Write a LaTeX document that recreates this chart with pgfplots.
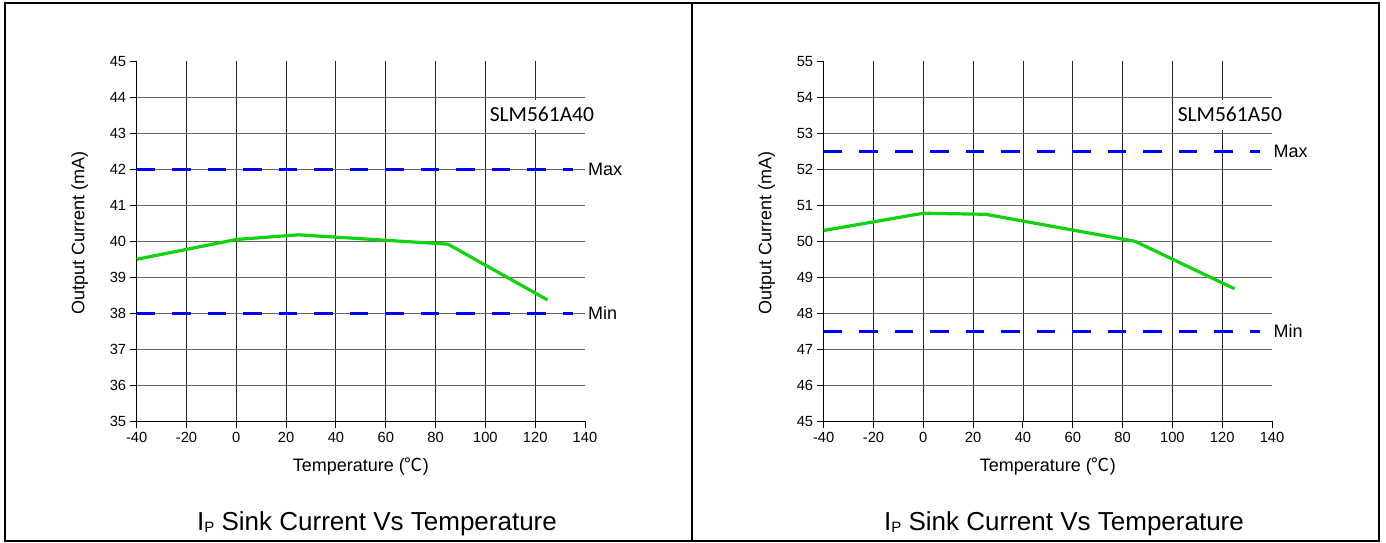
\documentclass[border=0pt]{standalone}
\usepackage{pgfplots}
\usepackage{pgfplotstable}
\pgfplotsset{compat=1.18}
\usepackage{fontspec}
\setmainfont{Liberation Sans}
\newfontfamily\calfont{Carlito}
\newfontfamily\cjk{Noto Sans CJK SC}
\definecolor{lgreen}{RGB}{16,210,16}
\definecolor{dblue}{RGB}{0,0,255}

\pgfplotstableread{
t I
-40 39.50
0 40.05
25 40.18
85 39.92
125 38.37
}\dataA
\pgfplotstableread{
t I
-40 50.30
0 50.78
25 50.75
85 50.00
125 48.68
}\dataB

\pgfplotsset{panel/.style={
  scale only axis, width=448.3pt, height=360pt, anchor=south west,
  xmin=-40, xmax=140, xtick={-40,-20,...,140},
  minor xtick={-20,0,...,120},
  grid=minor,
  minor tick length=0pt,
  minor grid style={line width=0.9pt},
  x grid style={black!85},
  y grid style={black!60},
  axis x line*=bottom, axis y line*=left,
  axis line style={-, black, line width=1pt},
  major tick style={black, line width=1pt},
  tick align=outside, major tick length=7pt,
  tick label style={font=\fontsize{14.7}{16}\selectfont},
  /pgf/number format/assume math mode=true,
  label style={font=\fontsize{18}{20}\selectfont},
  xlabel={Temperature ({\cjk ℃})},
  ylabel={Output Current (mA)},
  xlabel style={at={(axis description cs:0.5,0)}, anchor=base, yshift=-50.7pt},
  ylabel style={at={(axis description cs:0,0.523)}, anchor=center, rotate=0, yshift=57pt},
  clip=false,
}}

\begin{document}
\begin{tikzpicture}
\path[use as bounding box] (0pt,0pt) rectangle (1386pt,543pt);

\begin{axis}[panel, at={(136.7pt,121.7pt)},
  ymin=35, ymax=45, ytick={35,...,45}, minor ytick={36,...,44}]
  \addplot[dblue, line width=3.3pt, dash pattern=on 18.5pt off 17pt] coordinates {(-40,42) (135.1,42)};
  \addplot[dblue, line width=3.3pt, dash pattern=on 18.5pt off 17pt] coordinates {(-40,38) (135.1,38)};
  \addplot[lgreen, line width=3.2pt] table[x=t, y=I] {\dataA};
  \node[anchor=west, inner sep=0pt, font=\fontsize{18}{20}\selectfont] at (axis cs:141.2,42) {Max};
  \node[anchor=west, inner sep=0pt, font=\fontsize{18}{20}\selectfont] at (axis cs:141.2,38) {Min};
  \node[fill=white, inner xsep=1.5pt, inner ysep=8pt, text height=14pt, text depth=0pt,
        font=\calfont\fontsize{21.5}{22}\selectfont] at (axis cs:122.7,43.51) {SLM561A40};
\end{axis}

\begin{axis}[panel, at={(823.7pt,121.7pt)},
  ymin=45, ymax=55, ytick={45,...,55}, minor ytick={46,...,54}]
  \addplot[dblue, line width=3.3pt, dash pattern=on 18.5pt off 17pt] coordinates {(-40,52.5) (135.1,52.5)};
  \addplot[dblue, line width=3.3pt, dash pattern=on 18.5pt off 17pt] coordinates {(-40,47.5) (135.1,47.5)};
  \addplot[lgreen, line width=3.2pt] table[x=t, y=I] {\dataB};
  \node[anchor=west, inner sep=0pt, font=\fontsize{18}{20}\selectfont] at (axis cs:140.6,52.5) {Max};
  \node[anchor=west, inner sep=0pt, font=\fontsize{18}{20}\selectfont] at (axis cs:140.6,47.5) {Min};
  \node[fill=white, inner xsep=1.5pt, inner ysep=8pt, text height=14pt, text depth=0pt,
        font=\calfont\fontsize{21.5}{22}\selectfont] at (axis cs:123.1,53.51) {SLM561A50};
\end{axis}

\draw[line width=2pt] (5pt,1.7pt) rectangle (1379.3pt,540pt);
\draw[line width=2pt] (692pt,1.7pt) -- (692pt,540pt);

\node[anchor=base, font=\fontsize{26}{28}\selectfont] at (377pt,12pt) {I\raisebox{-1pt}{\fontsize{15}{15}\selectfont P} Sink Current Vs Temperature};
\node[anchor=base, font=\fontsize{26}{28}\selectfont] at (1064pt,12pt) {I\raisebox{-1pt}{\fontsize{15}{15}\selectfont P} Sink Current Vs Temperature};
\end{tikzpicture}
\end{document}
